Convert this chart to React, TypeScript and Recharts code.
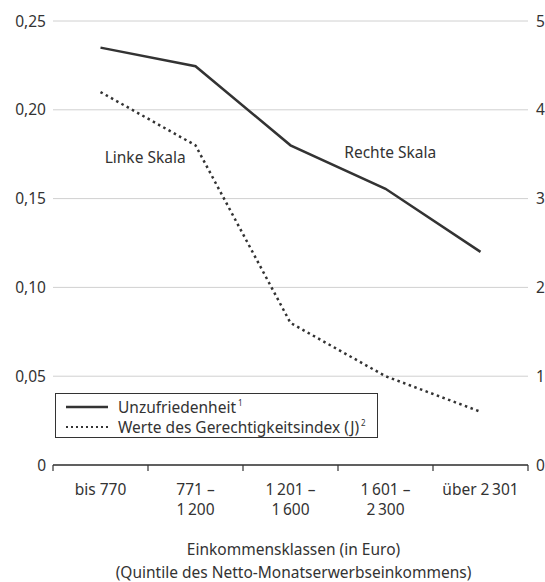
import { LineChart, Line, XAxis, YAxis, CartesianGrid, Legend, ReferenceDot } from "recharts";

// Einkommensklassen (Quintile des Netto-Monatserwerbseinkommens)
const categories = ["bis 770", "771 –\n1\u2009200", "1\u2009201 –\n1\u2009600", "1\u2009601 –\n2\u2009300", "über 2\u2009301"];
// Unzufriedenheit, rechte Skala (0–5)
const dissatisfaction = [4.70, 4.49, 3.60, 3.11, 2.40];
// Werte des Gerechtigkeitsindex (J), linke Skala (0–0,25)
const justiceIndex = [0.21, 0.18, 0.08, 0.05, 0.03];

const leftTicks = [0, 0.05, 0.1, 0.15, 0.2, 0.25];
const rightTicks = [0, 1, 2, 3, 4, 5];
const bandTicks = [0, 1, 2, 3, 4, 5];

// pos = middle of each class band on a 0..5 helper axis (used only for the boundary tick marks)
const data = categories.map((c, i) => ({ cat: c, pos: i + 0.5, unz: dissatisfaction[i], j: justiceIndex[i] }));

const INK = "#333";
const FONT = "'Noto Sans', sans-serif";
const FS = 15.5;

const fmtLeft = (v: number) => (v === 0 ? "0" : v.toFixed(2).replace(".", ","));

function CatTick({ x, y, payload }: any) {
  const lines = String(payload.value).split("\n");
  return (
    <text textAnchor="middle" fill={INK} fontSize={FS} fontFamily={FONT}>
      {lines.map((l, i) => (
        <tspan key={i} x={x} y={y + 24 + i * 20}>{l}</tspan>
      ))}
    </text>
  );
}

function XTitle({ viewBox }: any) {
  const cx = viewBox.x + viewBox.width / 2 + 3;
  return (
    <text textAnchor="middle" fill={INK} fontSize={FS} fontFamily={FONT}>
      <tspan x={cx} y={viewBox.y + 84}>Einkommensklassen (in Euro)</tspan>
      <tspan x={cx} y={viewBox.y + 107}>(Quintile des Netto-Monatserwerbseinkommens)</tspan>
    </text>
  );
}

function LegendBox() {
  const row = (dash: string | undefined, label: string, sup: string) => (
    <div style={{ display: "flex", alignItems: "center", height: 20 }}>
      <svg width={52} height={10} style={{ marginLeft: 10 }}>
        <line x1={0} y1={5} x2={42} y2={5} stroke={INK} strokeWidth={dash ? 2 : 2.5} strokeDasharray={dash} />
      </svg>
      <span>{label}<span style={{ fontSize: 8, marginLeft: 2, position: "relative", top: -7, lineHeight: 0 }}>{sup}</span></span>
    </div>
  );
  return (
    <div style={{ border: `1px solid ${INK}`, width: 321, height: 40, padding: "3px 0 0", boxSizing: "content-box", fontFamily: FONT, fontSize: FS, color: INK, background: "#fff", lineHeight: "20px" }}>
      {row(undefined, "Unzufriedenheit", "1")}
      {row("2 3", "Werte des Gerechtigkeitsindex (J)", "2")}
    </div>
  );
}

export default function App() {
  return (
    <div style={{ position: "absolute", left: 0, top: 0, width: 545, height: 582, background: "#fff" }}>
      <LineChart width={545} height={582} data={data} margin={{ top: 21, right: 0, bottom: 0, left: 0 }}>
        <CartesianGrid vertical={false} stroke="#d0d0d0" yAxisId="left" xAxisId="cat" />
        <XAxis xAxisId="band" dataKey="pos" type="number" domain={[0, 5]} allowDataOverflow ticks={bandTicks} height={6}
          axisLine={{ stroke: INK, strokeWidth: 1.5 }} tickLine={{ stroke: INK, strokeWidth: 1.2 }} tickSize={6}
          tickMargin={0} tickFormatter={() => ""} />
        <XAxis xAxisId="cat" dataKey="cat" scale="band" height={111} axisLine={false} tickLine={false} tickSize={0} tickMargin={0}
          interval={0} tick={<CatTick />} label={{ content: <XTitle /> }} />
        <YAxis yAxisId="left" domain={[0, 0.25]} ticks={leftTicks} width={53} axisLine={false} tickLine={false}
          tickSize={0} tickMargin={7} tickFormatter={fmtLeft}
          tick={{ fill: INK, fontSize: FS, fontFamily: FONT }} />
        <YAxis yAxisId="right" orientation="right" domain={[0, 5]} ticks={rightTicks} width={17} axisLine={false}
          tickLine={false} tickSize={0} tickMargin={8}
          tick={{ fill: INK, fontSize: FS, fontFamily: FONT, textAnchor: "start" }} />
        <Line xAxisId="cat" yAxisId="right" dataKey="unz" stroke={INK} strokeWidth={2.5} dot={false} isAnimationActive={false} />
        <Line xAxisId="cat" yAxisId="left" dataKey="j" stroke={INK} strokeWidth={2.5} strokeDasharray="2.5 3.5" dot={false} isAnimationActive={false} />
        <ReferenceDot xAxisId="band" yAxisId="left" x={0.97} y={0.173} r={0} fill="none" stroke="none"
          label={{ value: "Linke Skala", position: "center", fill: INK, fontSize: FS, fontFamily: FONT }} />
        <ReferenceDot xAxisId="band" yAxisId="left" x={3.55} y={0.176} r={0} fill="none" stroke="none"
          label={{ value: "Rechte Skala", position: "center", fill: INK, fontSize: FS, fontFamily: FONT }} />
        <Legend layout="vertical" align="center" verticalAlign="middle" content={<LegendBox />}
          wrapperStyle={{ left: 55, top: 393, width: 323 }} />
      </LineChart>
    </div>
  );
}
